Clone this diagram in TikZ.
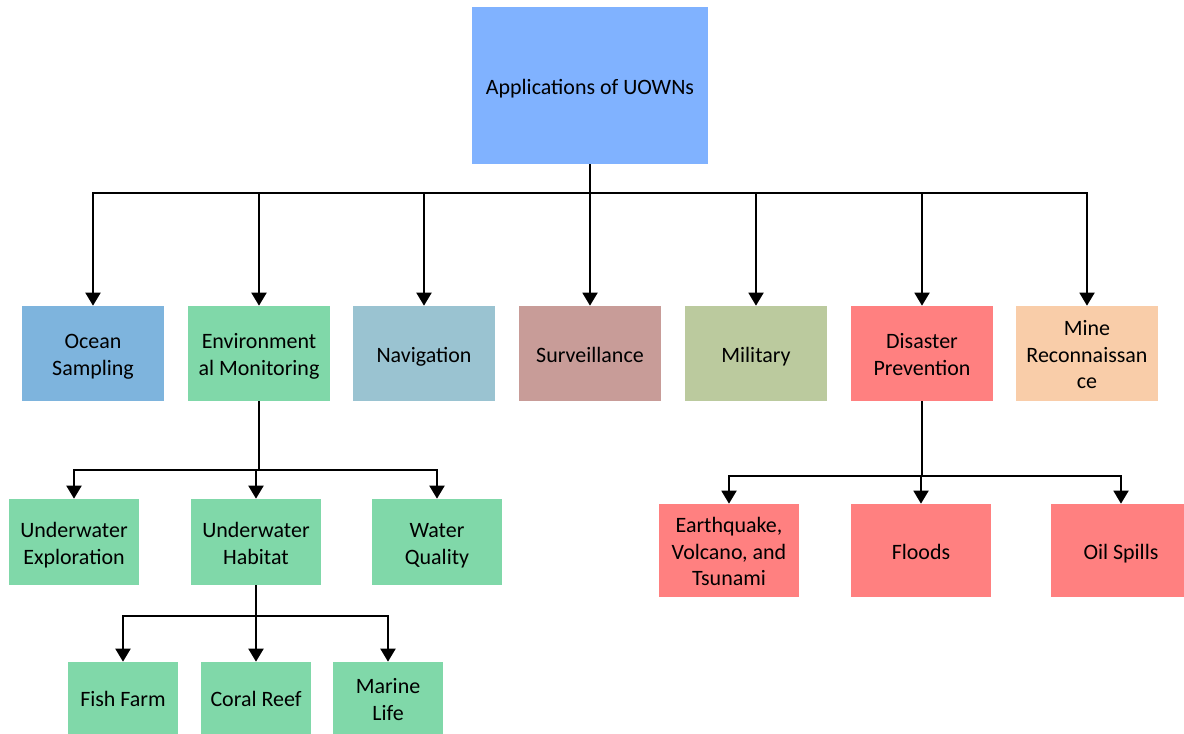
\documentclass[tikz,border=0pt]{standalone}
\usepackage{fontspec}
\setmainfont{Carlito}
\usetikzlibrary{arrows.meta}
\definecolor{rootblue}{HTML}{80B2FF}
\definecolor{oceanblue}{HTML}{7EB4DD}
\definecolor{envgreen}{HTML}{80D8A9}
\definecolor{navblue}{HTML}{9AC3D1}
\definecolor{survbrown}{HTML}{C89C98}
\definecolor{milgreen}{HTML}{BBCA9E}
\definecolor{disred}{HTML}{FF8080}
\definecolor{mineorange}{HTML}{F9CDA9}
\newcommand{\linestrut}{\rule[-2.6pt]{0pt}{15.2pt}}
\begin{document}
\begin{tikzpicture}[
    x=0.02cm, y=-0.02cm,
    box/.style={
      inner sep=0pt,
      align=flush center,
      font=\fontsize{12.5}{15.2}\selectfont,
      execute at begin node=\linestrut,
      execute at end node=\linestrut
    },
    root/.style={
      box,
      fill=rootblue,
      text width=4.74cm,
      minimum height=3.14cm
    },
    category/.style={
      box,
      text width=2.84cm,
      minimum height=1.9cm
    },
    subitem/.style={
      box,
      fill=envgreen,
      text width=2.6cm,
      minimum height=1.72cm
    },
    hazard/.style={
      box,
      fill=disred,
      text width=2.8cm,
      minimum height=1.86cm
    },
    leaf/.style={
      box,
      fill=envgreen,
      text width=2.2cm,
      minimum height=1.44cm
    },
    link/.style={line width=1.1pt},
    trunk/.style={line width=1.4pt},
    arrow/.style={link, -{Triangle[width=0.3cm,length=0.26cm]}}
  ]
    \useasboundingbox (0,0) rectangle (1184,734);

    \node[root] (root) at (590,85.5) {Applications of UOWNs};

    \node[category, fill=oceanblue] (ocean) at (93,353.5) {Ocean\\Sampling};
    \node[category, fill=envgreen] (envmon) at (259,353.5) {Environment\\al Monitoring};
    \node[category, fill=navblue] (navigation) at (424,353.5) {Navigation};
    \node[category, fill=survbrown] (surveillance) at (590,353.5) {Surveillance};
    \node[category, fill=milgreen] (military) at (756,353.5) {Military};
    \node[category, fill=disred] (disaster) at (922,353.5) {Disaster\\Prevention};
    \node[category, fill=mineorange] (mine) at (1087,353.5) {Mine\\Reconnaissan\\ce};

    \node[subitem] (exploration) at (74,542) {Underwater\\Exploration};
    \node[subitem] (habitat) at (256,542) {Underwater\\Habitat};
    \node[subitem] (water) at (437,542) {Water\\Quality};

    \node[leaf] (fishfarm) at (123,698) {Fish Farm};
    \node[leaf] (coralreef) at (256,698) {Coral Reef};
    \node[leaf] (marinelife) at (388,698) {Marine\\Life};

    \node[hazard] (earthquake) at (729,550.5) {Earthquake,\\Volcano, and\\Tsunami};
    \node[hazard] (floods) at (921,550.5) {Floods};
    \node[hazard] (oilspills) at (1121,550.5) {Oil Spills};

    \coordinate (topbus) at (590,193);
    \coordinate (envbus) at (259,470);
    \coordinate (habbus) at (256,616);
    \coordinate (disbus) at (922,476);

    \draw[link] (root.south) -- (topbus);
    \foreach \n in {ocean,envmon,navigation,surveillance,military,disaster,mine}
      \draw[arrow] (topbus) -| (\n.north);

    \draw[trunk] (envmon.south) -- (envbus);
    \foreach \n in {exploration,habitat,water}
      \draw[arrow] (envbus) -| (\n.north);

    \draw[trunk] (habitat.south) -- (habbus);
    \foreach \n in {fishfarm,coralreef,marinelife}
      \draw[arrow] (habbus) -| (\n.north);

    \draw[trunk] (disaster.south) -- (disbus);
    \foreach \n in {earthquake,floods,oilspills}
      \draw[arrow] (disbus) -| (\n.north);
  \end{tikzpicture}
\end{document}
